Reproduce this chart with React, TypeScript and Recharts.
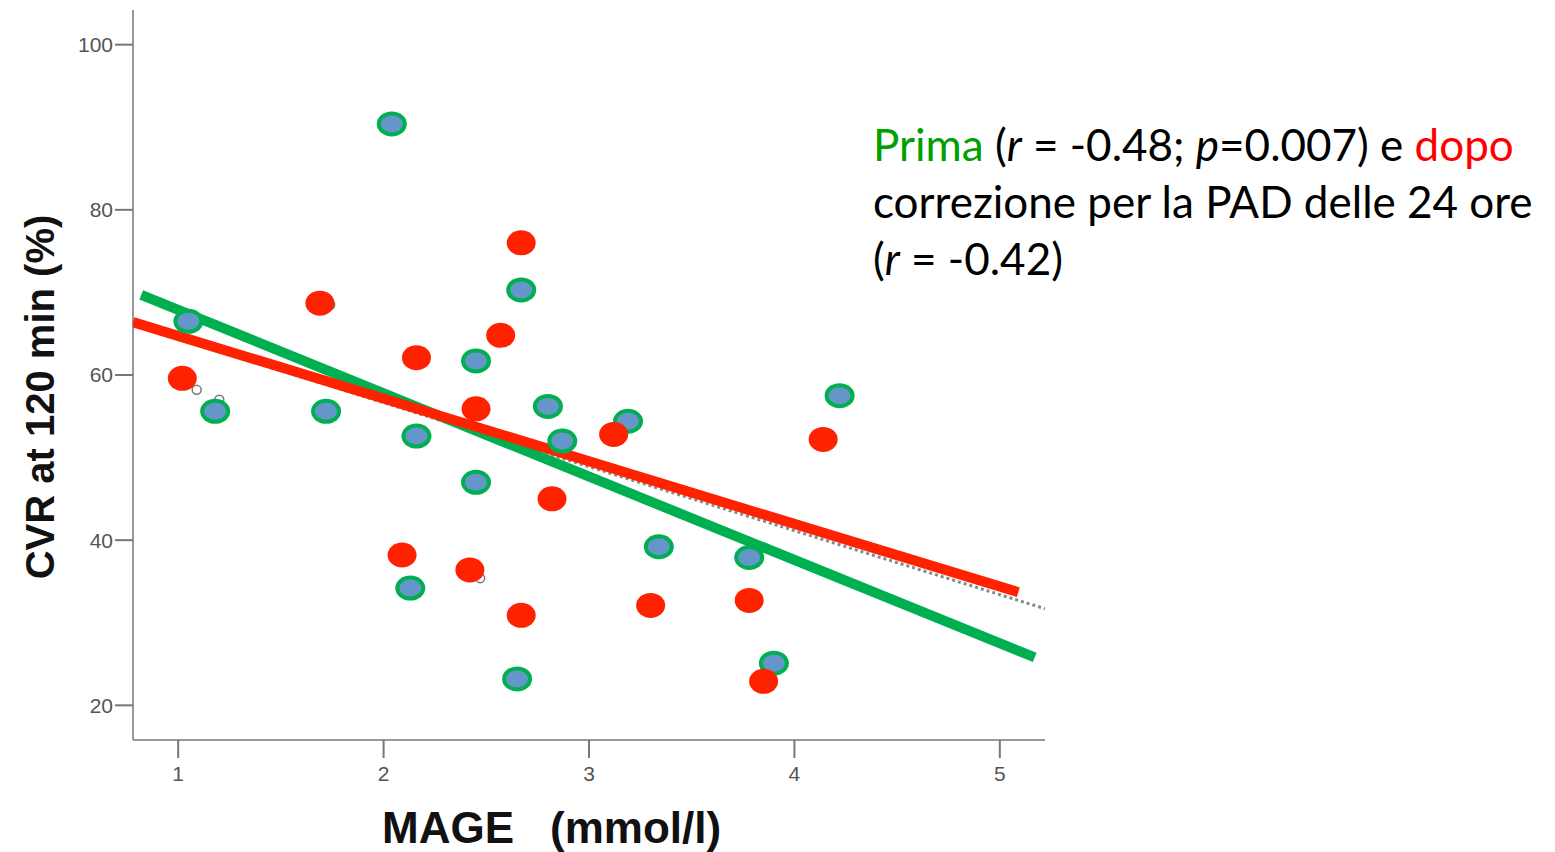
import React from "react"
import { ScatterChart, Scatter, XAxis, YAxis, ZAxis } from "recharts"

// MAGE (mmol/l) vs CVR at 120 min (%)
const primaPoints = [
    { x: 1.05, y: 66.5 },
    { x: 1.18, y: 55.6 },
    { x: 1.72, y: 55.6 },
    { x: 2.04, y: 90.4 },
    { x: 2.13, y: 34.2 },
    { x: 2.16, y: 52.6 },
    { x: 2.45, y: 61.7 },
    { x: 2.45, y: 47.0 },
    { x: 2.65, y: 23.2 },
    { x: 2.67, y: 70.3 },
    { x: 2.8, y: 56.2 },
    { x: 2.87, y: 52.0 },
    { x: 3.19, y: 54.4 },
    { x: 3.34, y: 39.2 },
    { x: 3.78, y: 37.9 },
    { x: 3.9, y: 25.1 },
    { x: 4.22, y: 57.5 },
]

const dopoPoints = [
    { x: 1.02, y: 59.6 },
    { x: 1.69, y: 68.7 },
    { x: 2.09, y: 38.2 },
    { x: 2.16, y: 62.1 },
    { x: 2.42, y: 36.4 },
    { x: 2.45, y: 55.9 },
    { x: 2.57, y: 64.8 },
    { x: 2.67, y: 76.0 },
    { x: 2.67, y: 30.9 },
    { x: 2.82, y: 45.0 },
    { x: 3.12, y: 52.8 },
    { x: 3.3, y: 32.1 },
    { x: 3.78, y: 32.7 },
    { x: 3.85, y: 22.9 },
    { x: 4.14, y: 52.2 },
]

// faint original markers peeking out from under the overlay
const originalPoints = [
    { x: 1.09, y: 58.2 },
    { x: 1.2, y: 57.0 },
    { x: 1.74, y: 68.5 },
    { x: 2.47, y: 35.4 },
    { x: 4.2, y: 57.0 },
]

const primaFit = [{ x: 0.82, y: 69.7 }, { x: 5.17, y: 25.8 }]
const dopoFit = [{ x: 0.78, y: 66.4 }, { x: 5.09, y: 33.7 }]
const originalFit = [{ x: 0.78, y: 66.1 }, { x: 5.22, y: 31.7 }]

const xTicks = [1, 2, 3, 4, 5]
const yTicks = [20, 40, 60, 80, 100]

const GREEN = "#00B050"
const RED = "#FF2200"
const BLUE = "#6596C9"

const PrimaDot = (props: any) => (
    <g>
        <ellipse cx={props.cx} cy={props.cy} rx={15} ry={12.5} fill={GREEN} />
        <ellipse cx={props.cx} cy={props.cy} rx={11} ry={8.5} fill={BLUE} />
    </g>
)

const DopoDot = (props: any) => (
    <ellipse cx={props.cx} cy={props.cy} rx={14.5} ry={12.5} fill={RED} />
)

const OrigDot = (props: any) => (
    <circle cx={props.cx} cy={props.cy} r={4.5} fill="none" stroke="#777" strokeWidth={1.5} />
)

const NoDot = () => null

export default function App() {
    return (
        <div style={{ position: "absolute", left: 0, top: 0, width: 1555, height: 852, background: "#fff" }}>
            <ScatterChart width={1555} height={852} margin={{ top: 10, right: 510, bottom: 72, left: 73 }}>
                <ZAxis range={[100, 100]} />
                <XAxis
                    type="number"
                    dataKey="x"
                    domain={[0.78, 5.22]}
                    ticks={xTicks}
                    allowDataOverflow
                    height={40}
                    stroke="#999"
                    strokeWidth={2}
                    tickSize={18}
                    tick={{ fill: "#555", fontSize: 21, fontFamily: "Liberation Sans", dy: 6 }}
                    tickLine={{ stroke: "#777", strokeWidth: 2 }}
                />
                <YAxis
                    type="number"
                    dataKey="y"
                    domain={[15.8, 104.2]}
                    ticks={yTicks}
                    allowDataOverflow
                    width={60}
                    stroke="#999"
                    strokeWidth={2}
                    tickSize={18}
                    tick={{ fill: "#555", fontSize: 21, fontFamily: "Liberation Sans" }}
                    tickLine={{ stroke: "#777", strokeWidth: 2 }}
                />
                <Scatter data={originalFit} line={{ stroke: "#888", strokeWidth: 3, strokeDasharray: "3 3" }} shape={NoDot} isAnimationActive={false} />
                <Scatter data={originalPoints} shape={OrigDot} isAnimationActive={false} />
                <Scatter data={primaFit} line={{ stroke: GREEN, strokeWidth: 10 }} shape={NoDot} isAnimationActive={false} />
                <Scatter data={dopoFit} line={{ stroke: RED, strokeWidth: 10 }} shape={NoDot} isAnimationActive={false} />
                <Scatter data={primaPoints} shape={PrimaDot} isAnimationActive={false} />
                <Scatter data={dopoPoints} shape={DopoDot} isAnimationActive={false} />
            </ScatterChart>

            <div
                style={{
                    position: "absolute",
                    left: 40,
                    top: 397,
                    transform: "translate(-50%, -50%) rotate(-90deg)",
                    whiteSpace: "nowrap",
                    fontFamily: "Liberation Sans",
                    fontWeight: "bold",
                    fontSize: 40,
                    color: "#111",
                }}
            >
                CVR at 120 min (%)
            </div>

            <div
                style={{
                    position: "absolute",
                    left: 382,
                    top: 800,
                    whiteSpace: "nowrap",
                    fontFamily: "Liberation Sans",
                    fontWeight: "bold",
                    fontSize: 44,
                    lineHeight: "56px",
                    color: "#111",
                }}
            >
                MAGE<span style={{ marginLeft: 36 }}>(mmol/l)</span>
            </div>

            <div
                style={{
                    position: "absolute",
                    left: 873,
                    top: 116,
                    whiteSpace: "nowrap",
                    fontFamily: "Lato",
                    fontSize: 44,
                    lineHeight: "57px",
                    color: "#000",
                }}
            >
                <div>
                    <span style={{ color: "#00A000" }}>Prima</span> (<i>r</i> = -0.48; <i>p</i>=0.007) e{" "}
                    <span style={{ color: "#FF0000" }}>dopo</span>
                </div>
                <div>correzione per la PAD delle 24 ore</div>
                <div>
                    (<i>r</i> = -0.42)
                </div>
            </div>
        </div>
    )
}
